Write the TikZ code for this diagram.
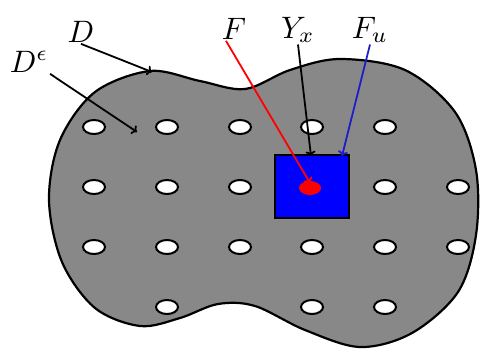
\documentclass[tikz,border=0pt]{standalone}
\usepackage{amsmath,amssymb}
\usetikzlibrary{positioning,calc,arrows.meta}

\definecolor{shade}{RGB}{136,136,136}
\definecolor{fuline}{RGB}{30,30,200}

\begin{document}
\begin{tikzpicture}[x=1pt,y=-1pt,
    lbl/.style={inner sep=0.4pt,anchor=base,scale=3.1},
    hole/.style={draw=black,fill=white,line width=2pt},
    arr/.style={-{To[length=5pt,width=10pt]},line width=1.8pt}]

\useasboundingbox (0,0) rectangle (481,349);

% the domain D
\draw[fill=shade,line width=2.2pt] plot[smooth cycle,tension=0.55] coordinates {
    (150,71) (200,81) (245,89) (290,70) (340,59) (405,70) (455,112) (476,170)
    (476,235) (458,292) (412,333) (360,347) (305,330) (255,306) (218,304)
    (180,318) (140,326) (95,308) (62,262) (49,200) (60,140) (95,92)};

% holes
\foreach \x in {94,167,240,312,385} \draw[hole] (\x,127) ellipse (11pt and 7pt);
\foreach \x in {94,167,240,385,458} \draw[hole] (\x,187) ellipse (11pt and 7pt);
\foreach \x in {94,167,240,312,385,458} \draw[hole] (\x,247) ellipse (11pt and 7pt);
\foreach \x in {167,312,385} \draw[hole] (\x,307) ellipse (11pt and 7pt);

\draw[fill=blue,line width=2pt] (275,155) rectangle (349,218);
\fill[red] (310,188) ellipse (11pt and 7pt);

\node[lbl] (lblD) at (81,42) {$D$};
\node[lbl] (lblDe) at (29,72) {$D^\epsilon$};
\node[lbl] (lblF) at (234,39) {$F$};
\node[lbl] (lblY) at (298,38) {$Y_x$};
\node[lbl] (lblFu) at (370,38) {$F_u$};

\coordinate (tipD) at (152,72);
\coordinate (tipDe) at (137,132);
\coordinate (tipF) at (310,183);
\coordinate (tipY) at (311,156);
\coordinate (tipFu) at (342,156);

\draw[arr] (lblD.south) -- (tipD);
\draw[arr] (lblDe.south east) -- (tipDe);
\draw[arr,red] ($(lblF.south)+(-8,0)$) -- (tipF);
\draw[arr] (lblY.south) -- (tipY);
\draw[arr,fuline] (lblFu.south) -- (tipFu);

\end{tikzpicture}
\end{document}
